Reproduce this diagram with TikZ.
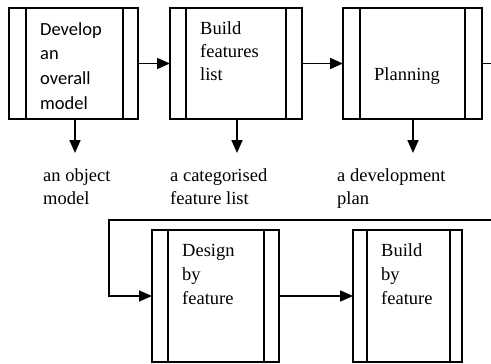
\documentclass[tikz,border=0pt]{standalone}
\usepackage{fontspec}
\setmainfont{Liberation Serif}
\newfontfamily\calib{Carlito}
\usetikzlibrary{arrows.meta}
\begin{document}
\begin{tikzpicture}[x=1pt,y=-1pt,
 box/.style={draw,line width=1.6pt,inner sep=0pt,outer sep=0pt},
 conn/.style={line width=1.6pt},
 arr/.style={conn,-{Triangle[length=13pt,width=11pt]}},
 txt/.style={anchor=base west,align=left,inner sep=0pt,font=\fontsize{18.5}{24}\selectfont}]
\useasboundingbox (0,0) rectangle (491,364);
% boxes
\node[box,minimum width=129pt,minimum height=111pt] (b1) at (73.5,63.5) {};
\node[box,minimum width=132pt,minimum height=111pt] (b2) at (236,63.5) {};
\node[box,minimum width=139pt,minimum height=111pt] (b3) at (412.5,63.5) {};
\node[box,minimum width=127pt,minimum height=132pt] (b4) at (215.5,296) {};
\node[box,minimum width=109pt,minimum height=132pt] (b5) at (407.5,296) {};
% inner lines
\draw[conn] ([xshift=17pt]b1.north west) -- ([xshift=17pt]b1.south west);
\draw[conn] ([xshift=-15pt]b1.north east) -- ([xshift=-15pt]b1.south east);
\draw[conn] ([xshift=16pt]b2.north west) -- ([xshift=16pt]b2.south west);
\draw[conn] ([xshift=-16pt]b2.north east) -- ([xshift=-16pt]b2.south east);
\draw[conn] ([xshift=17pt]b3.north west) -- ([xshift=17pt]b3.south west);
\draw[conn] ([xshift=-17pt]b3.north east) -- ([xshift=-17pt]b3.south east);
\draw[conn] ([xshift=16pt]b4.north west) -- ([xshift=16pt]b4.south west);
\draw[conn] ([xshift=-15pt]b4.north east) -- ([xshift=-15pt]b4.south east);
\draw[conn] ([xshift=14pt]b5.north west) -- ([xshift=14pt]b5.south west);
\draw[conn] ([xshift=-12pt]b5.north east) -- ([xshift=-12pt]b5.south east);
% box texts (anchored at the baseline of the last line)
\node[txt,font=\calib\fontsize{18.5}{24.8}\selectfont] (t1) at (40,109.5) {Develop\\an\\overall\\model};
\node[txt,font=\fontsize{18.5}{23.5}\selectfont] (t2) at (200,81) {Build\\features\\list};
\node[txt] (t3) at (374,80) {Planning};
\node[txt] (t4) at (182,304) {Design\\by\\feature};
\node[txt] (t5) at (381,304) {Build\\by\\feature};
% outputs
\node[txt,font=\fontsize{18.5}{23}\selectfont] (l1) at (43,204) {an object\\model};
\node[txt,font=\fontsize{18.5}{23}\selectfont] (l2) at (170,204) {a categorised\\feature list};
\node[txt,font=\fontsize{18.5}{23}\selectfont] (l3) at (337,204) {a development\\plan};
% connectors
\draw[arr] (b1.east) -- (b2.west);
\draw[arr] (b2.east) -- (b3.west);
\coordinate (out) at (491,63.5);
\draw[conn] (b3.east) -- (out);
\draw[arr] ([xshift=1.5pt]b1.south) -- ++(0,34);
\draw[arr] ([xshift=1pt]b2.south) -- ++(0,34);
\draw[arr] ([xshift=0.5pt]b3.south) -- ++(0,34);
\coordinate (fbin) at (491,220);
\coordinate (fbc) at (109,220);
\draw[arr] (fbin) -- (fbc) |- (b4.west);
\draw[arr] (b4.east) -- (b5.west);
\end{tikzpicture}
\end{document}
